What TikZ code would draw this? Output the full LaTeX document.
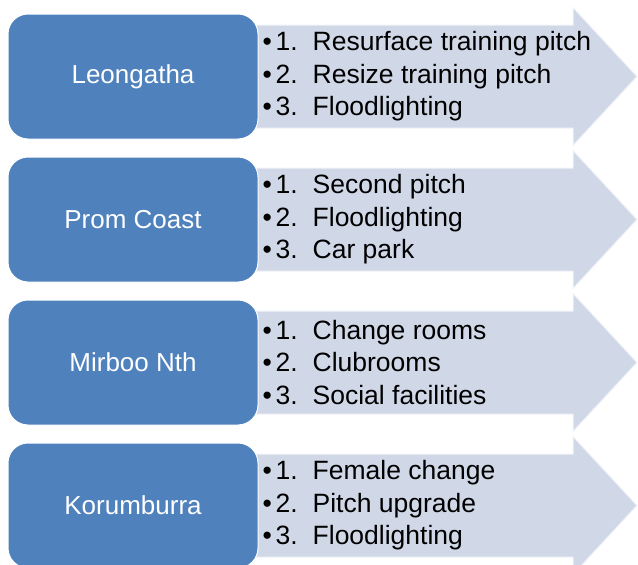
\documentclass[tikz,border=0pt]{standalone}
\usepackage{fontspec}
\setmainfont{Liberation Sans}
\usepackage{tikz}
\usetikzlibrary{positioning}

\definecolor{clubblue}{RGB}{79,129,189}
\definecolor{planfill}{RGB}{208,216,232}

\tikzset{
	club/.style={rectangle, rounded corners=20pt, fill=clubblue, draw=white, line width=1pt,
		minimum width=250pt, minimum height=125pt, text=white, font=\fontsize{26}{30}\selectfont},
	plan/.style={fill=planfill, draw=white!70!planfill, line width=1pt},
	items/.style={anchor=west, inner sep=0pt, align=left, font=\fontsize{26.5}{32.5}\selectfont}
}

\newcommand{\itm}[2]{\makebox[13pt][l]{\textbullet}\makebox[37pt][l]{#1}#2}

\begin{document}
\begin{tikzpicture}[x=1pt,y=1pt,node distance=17pt]
			\useasboundingbox (0,0) rectangle (638,-565);
			% arrows behind the clubs
			\foreach \c in {-76.5,-219.5,-362.5,-505.5}
				\draw[plan] (255,\c+51.5) -- (573,\c+51.5) -- (573,\c+69) -- (637,\c)
					-- (573,\c-69) -- (573,\c-51.5) -- (255,\c-51.5) -- cycle;
			\node[club] (nodeLeon) at (133,-76.5) {Leongatha};
			\node[club] (nodeProm) [below = of nodeLeon] {Prom Coast};
			\node[club] (nodeMirb) [below = of nodeProm] {Mirboo Nth};
			\node[club] (nodeKoru) [below = of nodeMirb] {Korumburra};
			\node[items] (listLeon) at ([xshift=4pt]nodeLeon.east)
				{\itm{1.}{Resurface training pitch}\\\itm{2.}{Resize training pitch}\\\itm{3.}{Floodlighting}};
			\node[items] (listProm) at ([xshift=4pt]nodeProm.east)
				{\itm{1.}{Second pitch}\\\itm{2.}{Floodlighting}\\\itm{3.}{Car park}};
			\node[items] (listMirb) at ([xshift=4pt]nodeMirb.east)
				{\itm{1.}{Change rooms}\\\itm{2.}{Clubrooms}\\\itm{3.}{Social facilities}};
			\node[items] (listKoru) at ([xshift=4pt]nodeKoru.east)
				{\itm{1.}{Female change}\\\itm{2.}{Pitch upgrade}\\\itm{3.}{Floodlighting}};
		\end{tikzpicture}
\end{document}
